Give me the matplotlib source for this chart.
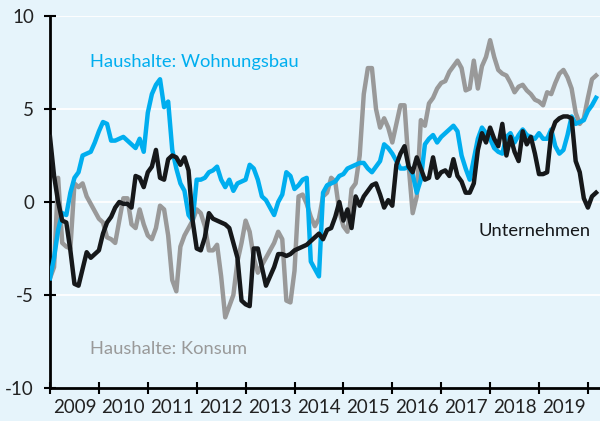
import numpy as np
import matplotlib.pyplot as plt

# monthly values, Jan 2009 onwards
wohnungsbau = [-4.1, -3.0, -1.5, -0.6, -0.7, 0.5, 1.3, 1.6, 2.5, 2.6, 2.7, 3.2,
               3.8, 4.3, 4.2, 3.3, 3.3, 3.4, 3.5, 3.3, 3.1, 2.9, 3.4, 2.7,
               4.8, 5.8, 6.3, 6.6, 5.1, 5.4, 2.8, 1.8, 1.0, 0.6, -0.7, -1.0,
               1.2, 1.2, 1.3, 1.6, 1.7, 1.9, 1.2, 0.8, 1.2, 0.6, 1.0, 1.1,
               1.2, 2.0, 1.8, 1.2, 0.3, 0.1, -0.3, -0.7, 0.0, 0.4, 1.6, 1.4,
               0.7, 0.9, 1.2, 1.3, -3.2, -3.6, -4.0, 0.5, 0.9, 1.0, 1.1, 1.4,
               1.5, 1.8, 1.9, 2.0, 2.1, 2.1, 1.8, 1.6, 1.9, 2.2, 3.1, 2.9,
               2.6, 2.2, 1.8, 1.8, 1.9, 1.5, 0.5, 1.2, 3.1, 3.4, 3.6, 3.2,
               3.5, 3.7, 3.9, 4.1, 3.8, 2.5, 1.8, 1.2, 2.3, 3.4, 4.0, 3.7,
               3.4, 2.9, 2.7, 2.6, 3.5, 3.7, 3.2, 3.6, 3.9, 3.6, 3.5, 3.4,
               3.7, 3.4, 3.4, 3.9, 3.0, 2.6, 2.8, 3.6, 4.6, 4.2, 4.3, 4.4,
               4.9, 5.2, 5.6]

konsum = [-4.1, -3.5, 1.3, -2.2, -2.4, -2.5, 1.0, 0.8, 1.0, 0.3, -0.1, -0.5,
          -0.9, -1.1, -1.9, -2.0, -2.2, -1.0, 0.2, 0.2, -1.2, -1.4, -0.4, -1.2,
          -1.8, -2.0, -1.4, -0.2, -0.4, -1.8, -4.2, -4.8, -2.4, -1.8, -1.4, -1.0,
          -0.4, -0.6, -1.3, -2.6, -2.6, -2.3, -4.0, -6.2, -5.6, -5.0, -3.2, -2.2,
          -1.0, -1.6, -3.0, -3.8, -3.4, -3.0, -2.6, -2.2, -1.6, -2.0, -5.3, -5.4,
          -3.7, 0.3, 0.4, -0.1, -0.8, -1.3, -0.9, 0.3, 0.5, 1.3, 1.1, -0.5,
          -1.3, -1.6, 0.7, 1.0, 2.5, 5.8, 7.2, 7.2, 5.0, 4.0, 4.5, 4.0,
          3.2, 4.2, 5.2, 5.2, 2.0, -0.6, 0.3, 4.4, 4.1, 5.3, 5.6, 6.1,
          6.4, 6.5, 7.0, 7.3, 7.6, 7.2, 6.0, 6.1, 7.6, 6.1, 7.3, 7.8,
          8.7, 7.8, 7.1, 6.9, 6.8, 6.4, 5.9, 6.2, 6.3, 6.0, 5.8, 5.5,
          5.4, 5.2, 5.9, 5.8, 6.4, 6.9, 7.1, 6.7, 6.1, 4.8, 4.2, 4.5,
          5.6, 6.6, 6.8]

unternehmen = [3.5, 1.4, 0.0, -1.0, -1.1, -2.6, -4.4, -4.5, -3.6, -2.7, -3.0, -2.8,
               -2.6, -1.7, -1.1, -0.8, -0.3, 0.0, -0.1, -0.1, -0.3, 1.4, 1.3, 0.8,
               1.6, 1.9, 2.8, 1.3, 1.2, 2.3, 2.5, 2.4, 2.0, 2.4, 1.7, -1.0,
               -2.5, -2.6, -1.9, -0.6, -0.9, -1.0, -1.1, -1.2, -1.4, -2.2, -3.0, -5.3,
               -5.5, -5.6, -2.5, -2.5, -3.5, -4.5, -4.0, -3.5, -2.8, -2.8, -2.9, -2.8,
               -2.6, -2.5, -2.4, -2.3, -2.1, -1.9, -1.7, -2.0, -1.5, -1.4, -0.8, 0.0,
               -1.0, -0.4, -1.4, 0.3, -0.2, 0.3, 0.6, 0.9, 1.0, 0.4, -0.3, 0.1,
               -0.2, 2.0, 2.6, 3.0, 1.9, 1.6, 2.4, 1.8, 1.2, 1.3, 2.4, 1.3,
               1.6, 1.7, 1.4, 2.3, 1.4, 1.1, 0.5, 0.5, 1.0, 2.8, 3.7, 3.2,
               4.0, 3.4, 3.0, 4.2, 2.5, 3.5, 2.7, 2.2, 3.8, 3.1, 3.5, 2.6,
               1.5, 1.5, 1.6, 3.7, 4.3, 4.5, 4.6, 4.6, 4.5, 2.2, 1.6, 0.2,
               -0.3, 0.3, 0.5]

years = list(range(2009, 2020))
yticks = [-10, -5, 0, 5, 10]

bg = '#e6f4fb'
blue = '#00aeef'
grey = '#999999'
black = '#16181a'

plt.rcParams['font.family'] = ['Lato', 'DejaVu Sans']

t = 2009 + np.arange(len(wohnungsbau)) / 12

fig = plt.figure(figsize=(6, 4.21), dpi=100, facecolor=bg)
ax = fig.add_axes([50 / 600, 1 - 388 / 421, 550 / 600, 372 / 421])
ax.set_facecolor(bg)

for v in yticks[1:]:
    ax.axhline(v, color='white', lw=1.3, zorder=0)

ax.plot(t, konsum, color=grey, lw=3.2, solid_joinstyle='round', zorder=2)
ax.plot(t, wohnungsbau, color=blue, lw=3.2, solid_joinstyle='round', zorder=3)
ax.plot(t, unternehmen, color=black, lw=3.2, solid_joinstyle='round', zorder=4)

ax.set_xlim(2009, 2009 + 550 / 48.9)
ax.set_ylim(-10, 10)

ax.set_xticks(years + [2020])
ax.set_xticklabels([])
ax.set_xticks([y + 0.5 for y in years], minor=True)
ax.set_xticklabels([str(y) for y in years], minor=True)
ax.tick_params(axis='x', which='major', direction='inout', length=9, width=1.5, color='black')
ax.tick_params(axis='x', which='minor', length=0, pad=8, labelsize=13.5, labelcolor='#222222')

ax.set_yticks(yticks)
ax.set_yticklabels([str(v) for v in yticks])
ax.tick_params(axis='y', direction='inout', length=9, width=1.5, pad=7, labelsize=13.5,
               labelcolor='#222222')

for s in ['top', 'right']:
    ax.spines[s].set_visible(False)
for s in ['left', 'bottom']:
    ax.spines[s].set_linewidth(2)
    ax.spines[s].set_color('black')

ax.text(2009.82, 7.55, 'Haushalte: Wohnungsbau', color=blue, fontsize=13.2, va='center')
ax.text(2009.82, -7.9, 'Haushalte: Konsum', color=grey, fontsize=13.2, va='center')
ax.text(2020.06, -1.55, 'Unternehmen', color=black, fontsize=13.2, va='center', ha='right')

fig.savefig('out.png', dpi=100, facecolor=bg)
